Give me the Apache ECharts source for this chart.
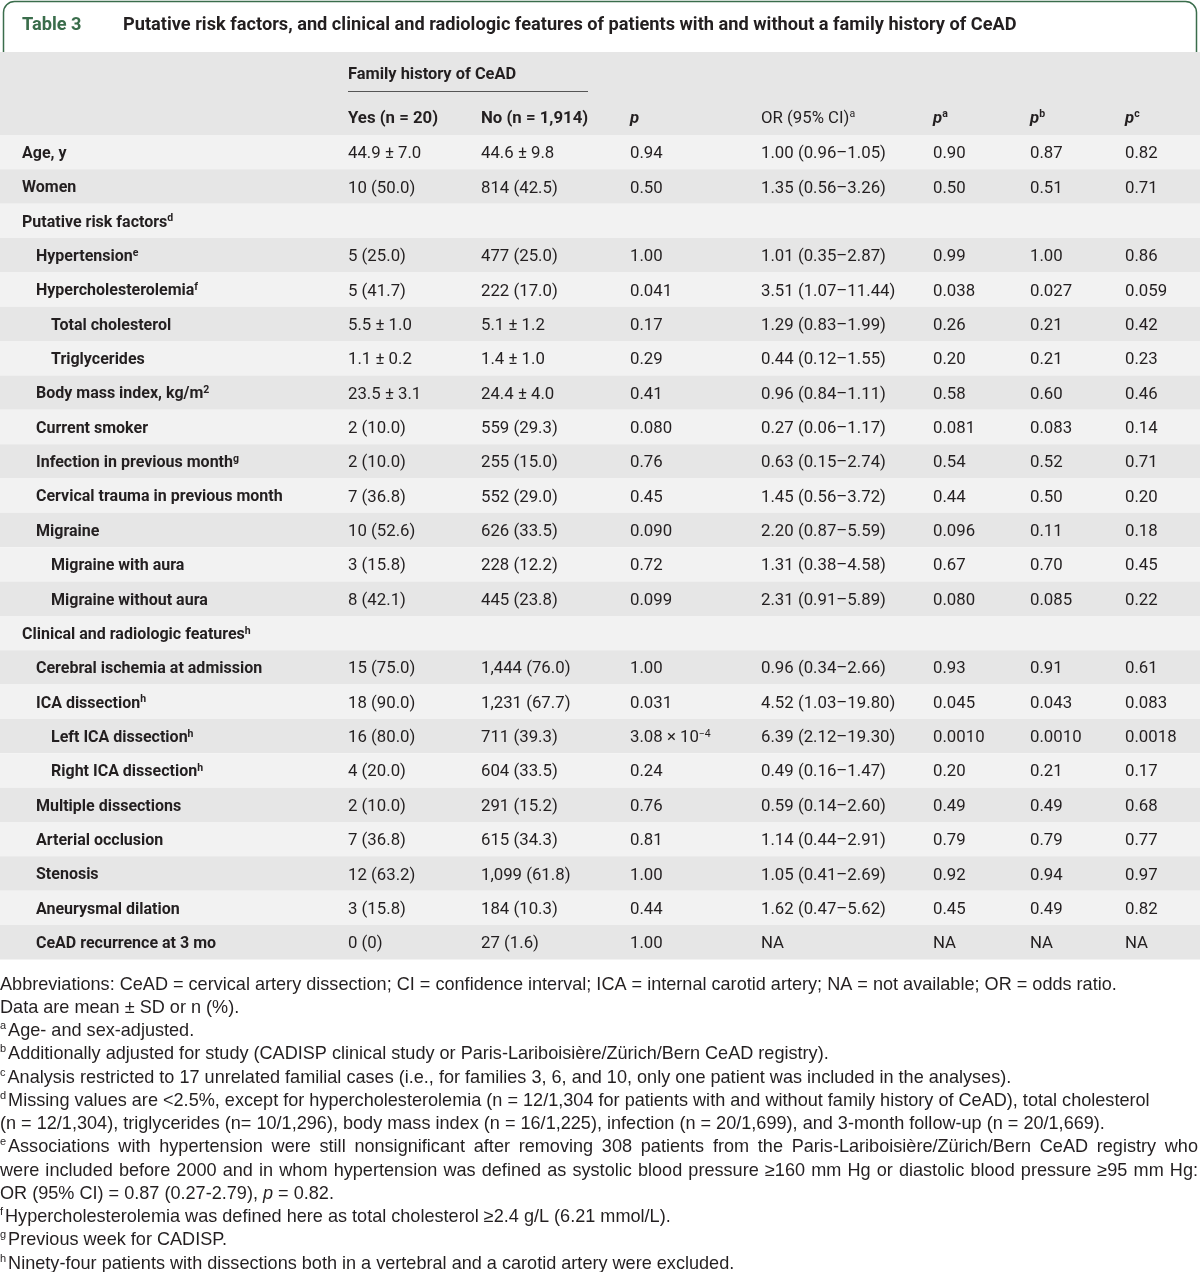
<!DOCTYPE html>
<html><head><meta charset="utf-8">
<script src="https://cdn.jsdelivr.net/npm/echarts@6/dist/echarts.min.js"></script>
<style>html,body{margin:0;padding:0;background:#fff}#chart{width:1200px;height:1272px}</style>
</head><body><div id="chart"></div>
<script>
// ---------- DATA ----------
const tableNumber = 'Table 3';
const tableTitle = 'Putative risk factors, and clinical and radiologic features of patients with and without a family history of CeAD';
const groupHeader = 'Family history of CeAD';
const colHeaders = ['Yes (n = 20)', 'No (n = 1,914)', 'p', 'OR (95% CI)', 'p', 'p', 'p'];
const colHeaderSups = ['', '', '', 'a', 'a', 'b', 'c'];

const rowLabels = ['Age, y', 'Women', 'Putative risk factors', 'Hypertension', 'Hypercholesterolemia',
  'Total cholesterol', 'Triglycerides', 'Body mass index, kg/m', 'Current smoker', 'Infection in previous month',
  'Cervical trauma in previous month', 'Migraine', 'Migraine with aura', 'Migraine without aura',
  'Clinical and radiologic features', 'Cerebral ischemia at admission', 'ICA dissection', 'Left ICA dissection',
  'Right ICA dissection', 'Multiple dissections', 'Arterial occlusion', 'Stenosis', 'Aneurysmal dilation',
  'CeAD recurrence at 3 mo'];
const rowSups = ['', '', 'd', 'e', 'f', '', '', '2', '', 'g', '', '', '', '', 'h', '', 'h', 'h', 'h', '', '', '', '', ''];
const rowLevels = [0, 0, 0, 1, 1, 2, 2, 1, 1, 1, 1, 1, 2, 2, 0, 1, 1, 2, 2, 1, 1, 1, 1, 1];

const yesValues = ['44.9 ± 7.0', '10 (50.0)', '', '5 (25.0)', '5 (41.7)', '5.5 ± 1.0', '1.1 ± 0.2', '23.5 ± 3.1',
  '2 (10.0)', '2 (10.0)', '7 (36.8)', '10 (52.6)', '3 (15.8)', '8 (42.1)', '', '15 (75.0)', '18 (90.0)',
  '16 (80.0)', '4 (20.0)', '2 (10.0)', '7 (36.8)', '12 (63.2)', '3 (15.8)', '0 (0)'];
const noValues = ['44.6 ± 9.8', '814 (42.5)', '', '477 (25.0)', '222 (17.0)', '5.1 ± 1.2', '1.4 ± 1.0', '24.4 ± 4.0',
  '559 (29.3)', '255 (15.0)', '552 (29.0)', '626 (33.5)', '228 (12.2)', '445 (23.8)', '', '1,444 (76.0)',
  '1,231 (67.7)', '711 (39.3)', '604 (33.5)', '291 (15.2)', '615 (34.3)', '1,099 (61.8)', '184 (10.3)', '27 (1.6)'];
const pValues = ['0.94', '0.50', '', '1.00', '0.041', '0.17', '0.29', '0.41', '0.080', '0.76', '0.45', '0.090',
  '0.72', '0.099', '', '1.00', '0.031', '3.08 × 10^−4', '0.24', '0.76', '0.81', '1.00', '0.44', '1.00'];
const orValues = ['1.00 (0.96–1.05)', '1.35 (0.56–3.26)', '', '1.01 (0.35–2.87)', '3.51 (1.07–11.44)',
  '1.29 (0.83–1.99)', '0.44 (0.12–1.55)', '0.96 (0.84–1.11)', '0.27 (0.06–1.17)', '0.63 (0.15–2.74)',
  '1.45 (0.56–3.72)', '2.20 (0.87–5.59)', '1.31 (0.38–4.58)', '2.31 (0.91–5.89)', '', '0.96 (0.34–2.66)',
  '4.52 (1.03–19.80)', '6.39 (2.12–19.30)', '0.49 (0.16–1.47)', '0.59 (0.14–2.60)', '1.14 (0.44–2.91)',
  '1.05 (0.41–2.69)', '1.62 (0.47–5.62)', 'NA'];
const paValues = ['0.90', '0.50', '', '0.99', '0.038', '0.26', '0.20', '0.58', '0.081', '0.54', '0.44', '0.096',
  '0.67', '0.080', '', '0.93', '0.045', '0.0010', '0.20', '0.49', '0.79', '0.92', '0.45', 'NA'];
const pbValues = ['0.87', '0.51', '', '1.00', '0.027', '0.21', '0.21', '0.60', '0.083', '0.52', '0.50', '0.11',
  '0.70', '0.085', '', '0.91', '0.043', '0.0010', '0.21', '0.49', '0.79', '0.94', '0.49', 'NA'];
const pcValues = ['0.82', '0.71', '', '0.86', '0.059', '0.42', '0.23', '0.46', '0.14', '0.71', '0.20', '0.18',
  '0.45', '0.22', '', '0.61', '0.083', '0.0018', '0.17', '0.68', '0.77', '0.97', '0.82', 'NA'];

const footnoteSups = ['', '', 'a', 'b', 'c', 'd', '', 'e', '', '', 'f', 'g', 'h'];
const footnoteTexts = [
  'Abbreviations: CeAD = cervical artery dissection; CI = confidence interval; ICA = internal carotid artery; NA = not available; OR = odds ratio.',
  'Data are mean ± SD or n (%).',
  'Age- and sex-adjusted.',
  'Additionally adjusted for study (CADISP clinical study or Paris-Lariboisière/Zürich/Bern CeAD registry).',
  'Analysis restricted to 17 unrelated familial cases (i.e., for families 3, 6, and 10, only one patient was included in the analyses).',
  'Missing values are <2.5%, except for hypercholesterolemia (n = 12/1,304 for patients with and without family history of CeAD), total cholesterol',
  '(n = 12/1,304), triglycerides (n= 10/1,296), body mass index (n = 16/1,225), infection (n = 20/1,699), and 3-month follow-up (n = 20/1,669).',
  'Associations with hypertension were still nonsignificant after removing 308 patients from the Paris-Lariboisière/Zürich/Bern CeAD registry who',
  'were included before 2000 and in whom hypertension was defined as systolic blood pressure ≥160 mm Hg or diastolic blood pressure ≥95 mm Hg:',
  'OR (95% CI) = 0.87 (0.27-2.79), _p_ = 0.82.',
  'Hypercholesterolemia was defined here as total cholesterol ≥2.4 g/L (6.21 mmol/L).',
  'Previous week for CADISP.',
  'Ninety-four patients with dissections both in a vertebral and a carotid artery were excluded.'
];
const footnoteJustified = [false, false, false, false, false, false, false, true, true, false, false, false, false];

// ---------- LAYOUT / STYLE ----------
const W = 1200;
const TXT = '#231f20';
const GREEN = '#3a6d4b';
const ROW_LIGHT = '#f2f2f2', ROW_DARK = '#e6e6e6';
const TFONT = 'Roboto';
const VSIZE = 16.8;   // values
const LSIZE = 16;     // row labels
const HSIZE = 16.8;   // column headers
const FFONT = 'Liberation Sans';
const FSIZE = 18.1;
const TDY = 1.8;      // optical vertical offset of table text
const levelX = [22, 36, 51];
const colX = [348, 481, 630, 761, 933, 1030, 1125];
const valueCols = [yesValues, noValues, pValues, orValues, paValues, pbValues, pcValues];
const tableTop = 135, rowH = 34.35;
const footTop = 984.5, footStep = 23.25;

const supRich = {
  s: { fontSize: 10.5, fontFamily: TFONT, fill: TXT, verticalAlign: 'top', lineHeight: 9 },
  sb: { fontSize: 10.5, fontFamily: TFONT, fontWeight: 'bold', fill: TXT, verticalAlign: 'top', lineHeight: 9 }
};
function richValue(str) { return str.replace(/\^(\S+)/g, '{s|$1}'); }

const chart = echarts.init(document.getElementById('chart'), null, { renderer: 'canvas' });

function renderRow(params, api) {
  const i = api.value(1);
  const c = api.coord([0, i]);
  const h = api.size([0, 1])[1];
  const y = c[1];
  const children = [{
    type: 'rect', shape: { x: 0, y: y - h / 2, width: W, height: h },
    style: { fill: i % 2 === 0 ? ROW_LIGHT : ROW_DARK }, silent: true
  }];
  children.push({
    type: 'text', style: {
      text: rowLabels[i] + (rowSups[i] ? '{sb|' + rowSups[i] + '}' : ''),
      x: levelX[rowLevels[i]], y: y + TDY, verticalAlign: 'middle', align: 'left',
      fontFamily: TFONT, fontSize: LSIZE, fontWeight: 'bold', fill: TXT, lineHeight: 19, rich: supRich
    }
  });
  valueCols.forEach((col, k) => {
    if (!col[i]) return;
    children.push({
      type: 'text', style: {
        text: richValue(col[i]), x: colX[k], y: y + TDY, verticalAlign: 'middle', align: 'left',
        fontFamily: TFONT, fontSize: VSIZE, fill: TXT, lineHeight: 19, rich: supRich
      }
    });
  });
  return { type: 'group', children: children };
}

// measuring for the justified footnote lines
const ctx = document.createElement('canvas').getContext('2d');
function measure(t, size, family, style) { ctx.font = (style || '') + ' ' + size + 'px "' + family + '"'; return ctx.measureText(t).width; }

const graphics = [];
// title frame
graphics.push({ type: 'rect', z: 1, shape: { x: 3.5, y: 1.5, width: 1193, height: 100, r: 11 },
  style: { fill: '#fff', stroke: GREEN, lineWidth: 1.5 } });
graphics.push({ type: 'text', z: 3, x: 22, y: 25, style: { text: tableNumber, fill: GREEN, fontFamily: TFONT,
  fontSize: 18.2, fontWeight: 'bold', verticalAlign: 'middle' } });
graphics.push({ type: 'text', z: 3, x: 123, y: 25, style: { text: tableTitle, fill: TXT, fontFamily: TFONT,
  fontSize: 18.2, fontWeight: 'bold', verticalAlign: 'middle' } });
// header band
graphics.push({ type: 'rect', z: 2, shape: { x: 0, y: 52, width: W, height: 83 }, style: { fill: ROW_DARK } });
graphics.push({ type: 'text', z: 3, x: colX[0], y: 74.5, style: { text: groupHeader, fill: TXT, fontFamily: TFONT,
  fontSize: 16.4, fontWeight: 'bold', verticalAlign: 'middle' } });
graphics.push({ type: 'line', z: 3, shape: { x1: colX[0], y1: 91.5, x2: 588, y2: 91.5 }, style: { stroke: '#555', lineWidth: 1 } });
colHeaders.forEach((hname, k) => {
  let t;
  if (hname === 'p') t = '{pi|p}' + (colHeaderSups[k] ? '{sb|' + colHeaderSups[k] + '}' : '');
  else if (k === 3) t = '{r|' + hname + '}{s|' + colHeaderSups[k] + '}';
  else t = hname;
  graphics.push({ type: 'text', z: 3, x: colX[k], y: 118.5, style: { text: t, fill: TXT, fontFamily: TFONT,
    fontSize: HSIZE, fontWeight: 'bold', verticalAlign: 'middle', lineHeight: 19,
    rich: Object.assign({
      pi: { fontFamily: TFONT, fontSize: HSIZE, fontWeight: 'bold', fontStyle: 'italic', fill: TXT, lineHeight: 19 },
      r: { fontFamily: TFONT, fontSize: VSIZE, fill: TXT, lineHeight: 19 }
    }, supRich) } });
});
// footnotes
const fRich = {
  s: { fontSize: 11, fontFamily: FFONT, fill: TXT, verticalAlign: 'top', lineHeight: 10, padding: [0, 2, 0, 0] },
  i: { fontSize: FSIZE, fontFamily: FFONT, fontStyle: 'italic', fill: TXT, lineHeight: 21 }
};
footnoteTexts.forEach((txt, k) => {
  const y = footTop + k * footStep;
  if (footnoteJustified[k]) {
    let x0 = 0;
    if (footnoteSups[k]) {
      graphics.push({ type: 'text', z: 3, x: 0, y: y - 5, style: { text: footnoteSups[k], fill: TXT, fontFamily: FFONT,
        fontSize: 11, verticalAlign: 'middle' } });
      x0 = 8;
    }
    const words = txt.split(' ');
    const widths = words.map(w => measure(w, FSIZE, FFONT));
    const total = widths.reduce((a, b) => a + b, 0);
    const gap = (1198 - x0 - total) / (words.length - 1);
    let x = x0;
    words.forEach((w, j) => {
      graphics.push({ type: 'text', z: 3, x: x, y: y, style: { text: w, fill: TXT, fontFamily: FFONT,
        fontSize: FSIZE, verticalAlign: 'middle' } });
      x += widths[j] + gap;
    });
  } else {
    const t = (footnoteSups[k] ? '{s|' + footnoteSups[k] + '}' : '') + txt.replace(/_([^_]+)_/g, '{i|$1}');
    graphics.push({ type: 'text', z: 3, x: 0, y: y, style: { text: t, fill: TXT, fontFamily: FFONT,
      fontSize: FSIZE, verticalAlign: 'middle', lineHeight: 21, rich: fRich } });
  }
});

chart.setOption({
  animation: false,
  backgroundColor: '#fff',
  grid: { left: 0, right: 0, top: tableTop, height: rowH * rowLabels.length, containLabel: false },
  xAxis: { type: 'value', min: 0, max: W, show: false },
  yAxis: { type: 'category', data: rowLabels, inverse: true, show: false },
  graphic: { elements: graphics },
  series: [{
    type: 'custom',
    renderItem: renderRow,
    encode: { x: 0, y: 1 },
    data: rowLabels.map((_, i) => [0, i]),
    silent: true
  }]
});
</script></body></html>
